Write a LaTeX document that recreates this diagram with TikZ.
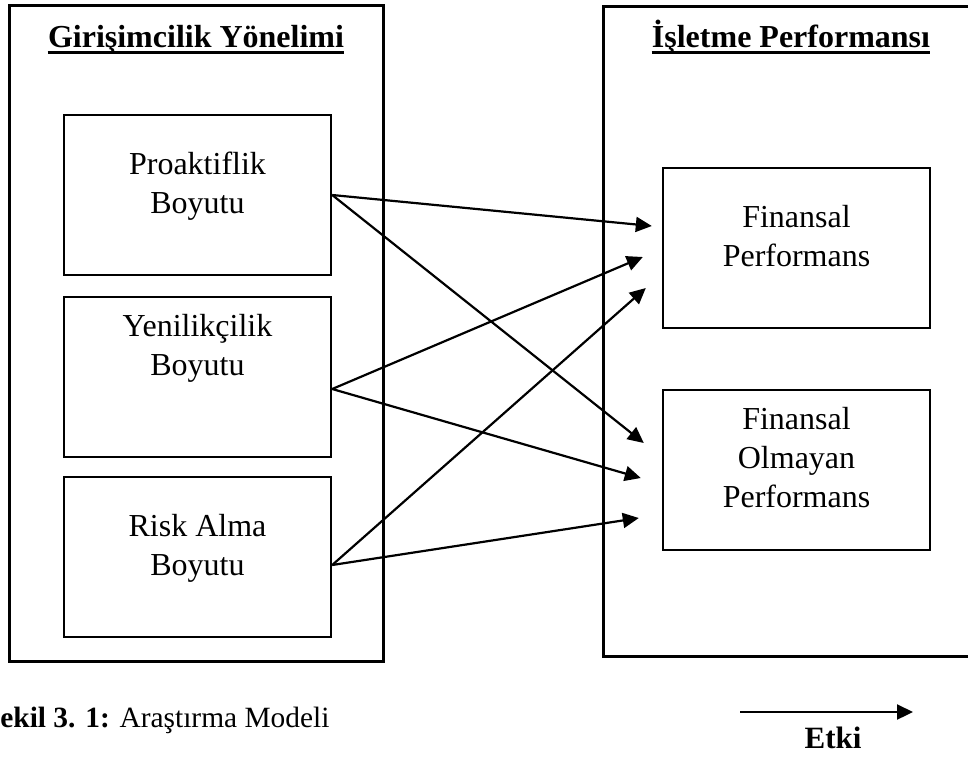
\documentclass[tikz,border=0pt]{standalone}
\usepackage{fontspec}
\setmainfont{Liberation Serif}
\usepackage{tikz}
\usetikzlibrary{shapes, arrows.meta, positioning}
\tikzstyle{outerbox} = [ rectangle, draw, line width=1.5pt, minimum width=187pt, minimum height=328pt, inner sep=0pt ]
\tikzstyle{block} = [ rectangle, draw, line width=1.2pt, minimum width=133.5pt, minimum height=80pt, inner sep=0pt ]
\tikzstyle{boxtext} = [ align=center, inner sep=0pt, font=\fontsize{16pt}{19.5pt}\selectfont ]
\tikzstyle{heading} = [ inner sep=0pt, font=\fontsize{16pt}{19.5pt}\selectfont\bfseries ]
\tikzstyle{line} = [ draw, line width=1.1pt, -{Triangle[length=8pt, width=7.5pt]} ]
\tikzstyle{uline} = [ draw, line width=1.5pt ]

\begin{document}
\begin{tikzpicture}[x=0.5pt, y=-0.5pt]
\clip (0,0) rectangle (968,756);

% Outer frames and titles
\node [outerbox] (girisim) at (196,333) {};
\node [outerbox, minimum width=193.5pt, minimum height=325pt] (isletme) at (796.5,331) {};
\node [heading, anchor=base] (girisimT) at (196,47) {Girişimcilik Yönelimi};
\node [heading, anchor=base] (isletmeT) at (791,47) {İşletme Performansı};
\draw [uline] ([yshift=-2.5pt]girisimT.base west) -- ([yshift=-2.5pt]girisimT.base east);
\draw [uline] ([yshift=-2.5pt]isletmeT.base west) -- ([yshift=-2.5pt]isletmeT.base east);

% Dimensions
\node [block] (pro) at (197.5,195) {};
\node [block, below=9.8pt of pro] (yen) {};
\node [block, below=8.8pt of yen] (risk) {};
\node [boxtext, below=19pt of pro.north] (proT) {Proaktiflik\\Boyutu};
\node [boxtext, below=9pt of yen.north] (yenT) {Yenilikçilik\\Boyutu};
\node [boxtext, below=19pt of risk.north] (riskT) {Risk Alma\\Boyutu};

% Performance
\node [block] (fin) at (796.5,248) {};
\node [block, below=29.8pt of fin] (olm) {};
\node [boxtext, below=19pt of fin.north] (finT) {Finansal\\Performans};
\node [boxtext, below=9pt of olm.north] (olmT) {Finansal\\Olmayan\\Performans};

\path [line] (pro.east) -- ([xshift=-5pt, yshift=11pt]fin.west);
\path [line] (pro.east) -- ([xshift=-9pt, yshift=13.5pt]olm.west);
\path [line] ([yshift=-6pt]yen.east) -- ([xshift=-9.5pt, yshift=-4.5pt]fin.west);
\path [line] ([yshift=-6pt]yen.east) -- ([xshift=-10.5pt, yshift=-4pt]olm.west);
\path [line] ([yshift=-4pt]risk.east) -- ([xshift=-8pt, yshift=-20pt]fin.west);
\path [line] ([yshift=-4pt]risk.east) -- ([xshift=-11.5pt, yshift=-24pt]olm.west);

% Caption and legend
\node [anchor=base west, inner sep=0pt, font=\fontsize{14.7pt}{17pt}\selectfont] (caption) at (0,727) {\textbf{ekil 3. 1:} Araştırma Modeli};
\coordinate (etkiA) at (740,712);
\coordinate (etkiB) at (913,712);
\path [line] (etkiA) -- (etkiB);
\node [heading, anchor=base, font=\fontsize{15.5pt}{18pt}\selectfont\bfseries] (etki) at (833,748) {Etki};
\end{tikzpicture}
\end{document}
